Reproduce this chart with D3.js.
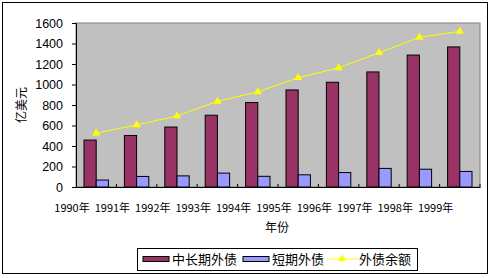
<!DOCTYPE html>
<html>
<head>
  <meta charset="utf-8">
  <script src="https://cdn.jsdelivr.net/npm/d3@7"></script>
  <style>
    body { margin: 0; background: #fff; }
    text { font-family: "Noto Sans CJK SC", sans-serif; fill: #000; }
  </style>
</head>
<body>
  <div id="chart"></div>
  <script>
    const years = ["1990年","1991年","1992年","1993年","1994年","1995年","1996年","1997年","1998年","1999年"];
    const longTerm = [457.8, 502.6, 584.8, 700.3, 823.9, 946.7, 1021.7, 1122.6, 1287.0, 1366.5];
    const shortTerm = [67.7, 103.0, 108.5, 135.5, 104.2, 119.1, 141.1, 181.4, 173.4, 151.8];
    const totalDebt = [525.5, 605.6, 693.2, 835.7, 928.1, 1065.9, 1162.8, 1309.6, 1460.4, 1518.3];
    const yTicks = [0, 200, 400, 600, 800, 1000, 1200, 1400, 1600];
    const seriesNames = ["中长期外债", "短期外债", "外债余额"];

    const width = 492, height = 278;
    const plot = { left: 76, top: 23, right: 480, bottom: 187 };

    const svg = d3.select("#chart").append("svg")
      .attr("width", width)
      .attr("height", height);

    // outer frame
    svg.append("rect")
      .attr("x", 2.5).attr("y", 2.5)
      .attr("width", 485).attr("height", 271)
      .attr("fill", "#fff").attr("stroke", "#000");

    const x = d3.scaleBand()
      .domain(years)
      .range([plot.left, plot.right]);

    const y = d3.scaleLinear()
      .domain([0, 1600])
      .range([plot.bottom, plot.top]);

    // plot area
    svg.append("rect")
      .attr("x", plot.left).attr("y", plot.top)
      .attr("width", plot.right - plot.left)
      .attr("height", plot.bottom - plot.top)
      .attr("fill", "#c0c0c0")
      .attr("stroke", "#808080");

    const barW = 12.2;

    svg.append("g").selectAll("rect")
      .data(longTerm)
      .join("rect")
        .attr("x", (d, i) => x(years[i]) + x.bandwidth() / 2 - barW)
        .attr("y", d => y(d))
        .attr("width", barW)
        .attr("height", d => y(0) - y(d))
        .attr("fill", "#993366")
        .attr("stroke", "#000")
        .attr("stroke-width", 1);

    svg.append("g").selectAll("rect")
      .data(shortTerm)
      .join("rect")
        .attr("x", (d, i) => x(years[i]) + x.bandwidth() / 2)
        .attr("y", d => y(d))
        .attr("width", barW)
        .attr("height", d => y(0) - y(d))
        .attr("fill", "#9999ff")
        .attr("stroke", "#000")
        .attr("stroke-width", 1);

    // total debt line
    const line = d3.line()
      .x((d, i) => x(years[i]) + x.bandwidth() / 2)
      .y(d => y(d));

    svg.append("path")
      .datum(totalDebt)
      .attr("d", line)
      .attr("fill", "none")
      .attr("stroke", "#ffff00")
      .attr("stroke-width", 1);

    const tri = d3.symbol().type(d3.symbolTriangle).size(28);

    svg.append("g").selectAll("path")
      .data(totalDebt)
      .join("path")
        .attr("d", tri)
        .attr("transform", (d, i) => `translate(${x(years[i]) + x.bandwidth() / 2},${y(d)})`)
        .attr("fill", "#ffff00");

    // y axis
    const yAxis = svg.append("g")
      .attr("transform", `translate(${plot.left},0)`)
      .call(d3.axisLeft(y).tickValues(yTicks).tickFormat(d3.format("d")).tickSize(4).tickPadding(9));
    yAxis.select(".domain").attr("stroke", "#000");
    yAxis.selectAll("text")
      .style("font-family", "'Liberation Sans', Arial, sans-serif")
      .style("font-size", "12.5px");

    // x axis, ticks inside
    const xAxis = svg.append("g")
      .attr("transform", `translate(0,${plot.bottom})`)
      .call(d3.axisBottom(x).tickSize(0).tickFormat(""));
    xAxis.select(".domain").attr("stroke", "#000");
    xAxis.selectAll(".tick").remove();

    svg.append("g").selectAll("line")
      .data(years)
      .join("line")
        .attr("x1", d => x(d) + x.bandwidth())
        .attr("x2", d => x(d) + x.bandwidth())
        .attr("y1", plot.bottom)
        .attr("y2", plot.bottom - 3)
        .attr("stroke", "#000");

    svg.append("g").selectAll("text")
      .data(years)
      .join("text")
        .attr("x", d => x(d) - 4)
        .attr("y", 212)
        .attr("text-anchor", "middle")
        .style("font-size", "11px")
        .text(d => d);

    // axis titles
    svg.append("text")
      .attr("x", 277).attr("y", 232)
      .attr("text-anchor", "middle")
      .style("font-size", "12px")
      .text("年份");

    svg.append("text")
      .attr("transform", `translate(26,${(plot.top + plot.bottom) / 2}) rotate(-90)`)
      .attr("text-anchor", "middle")
      .style("font-size", "12px")
      .text("亿美元");

    // legend
    const lg = svg.append("g");
    lg.append("rect")
      .attr("x", 137.5).attr("y", 248.5)
      .attr("width", 280).attr("height", 22)
      .attr("fill", "#fff").attr("stroke", "#000");

    lg.append("rect")
      .attr("x", 143).attr("y", 256.5).attr("width", 26).attr("height", 5)
      .attr("fill", "#993366").attr("stroke", "#000");
    lg.append("text").attr("x", 172).attr("y", 264).style("font-size", "13px").text(seriesNames[0]);

    lg.append("rect")
      .attr("x", 243).attr("y", 256.5).attr("width", 26).attr("height", 5)
      .attr("fill", "#9999ff").attr("stroke", "#000");
    lg.append("text").attr("x", 272).attr("y", 264).style("font-size", "13px").text(seriesNames[1]);

    lg.append("line")
      .attr("x1", 327).attr("x2", 358).attr("y1", 259).attr("y2", 259)
      .attr("stroke", "#ffff00");
    lg.append("path")
      .attr("d", tri)
      .attr("transform", "translate(342,259)")
      .attr("fill", "#ffff00");
    lg.append("text").attr("x", 359).attr("y", 264).style("font-size", "13px").text(seriesNames[2]);
  </script>
</body>
</html>
